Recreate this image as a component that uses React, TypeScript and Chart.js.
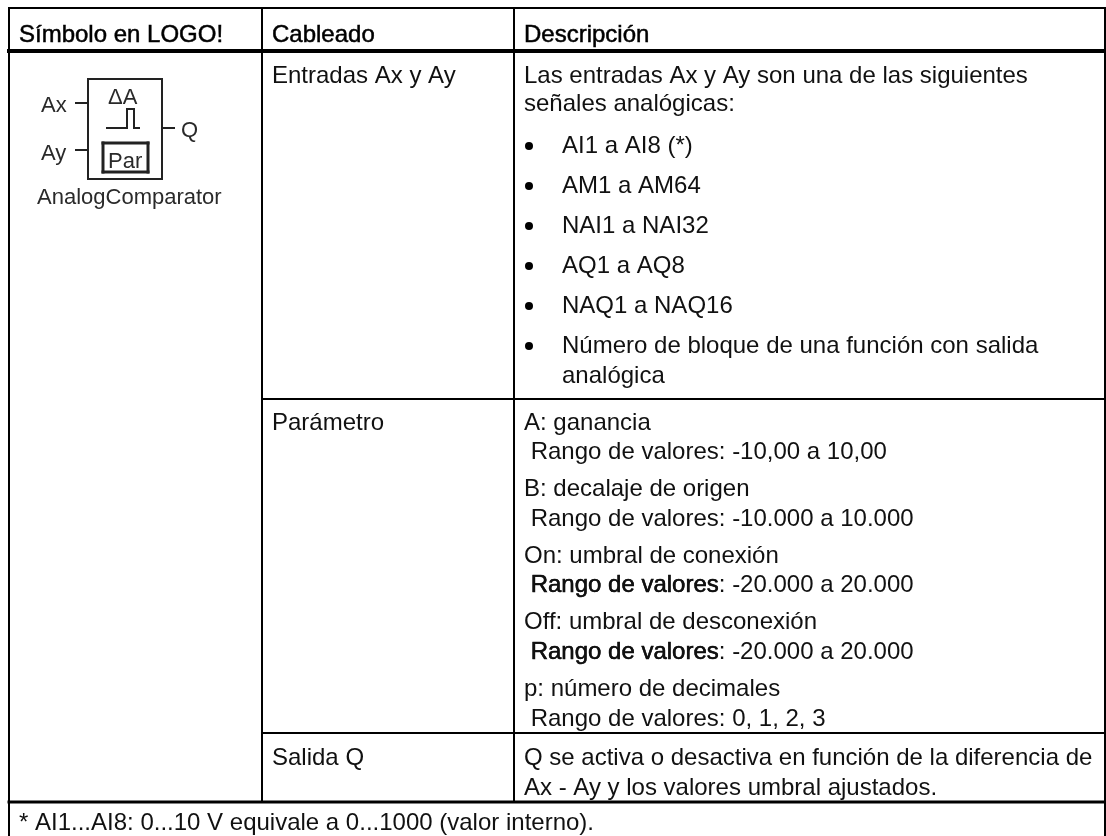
import React, { useEffect, useRef } from "react";
import { Chart, registerables } from "chart.js";

Chart.register(...registerables);

// ---------- content ----------
const headers = ["Símbolo en LOGO!", "Cableado", "Descripción"];
const wiring = ["Entradas Ax y Ay", "Parámetro", "Salida Q"];
const description = [
  "Las entradas Ax y Ay son una de las siguientes",
  "señales analógicas:",
  "A: ganancia",
  " Rango de valores: -10,00 a 10,00",
  "B: decalaje de origen",
  " Rango de valores: -10.000 a 10.000",
  "On: umbral de conexión",
  " Rango de valores: -20.000 a 20.000",
  "Off: umbral de desconexión",
  " Rango de valores: -20.000 a 20.000",
  "p: número de decimales",
  " Rango de valores: 0, 1, 2, 3",
  "Q se activa o desactiva en función de la diferencia de",
  "Ax - Ay y los valores umbral ajustados.",
];
const bullets = ["AI1 a AI8 (*)", "AM1 a AM64", "NAI1 a NAI32", "AQ1 a AQ8", "NAQ1 a NAQ16", "Número de bloque de una función con salida"];
const bulletContinuation = "analógica";
const emphasised = " Rango de valores";
const footnote = "* AI1...AI8: 0...10 V equivale a 0...1000 (valor interno).";
const symbolTexts = ["Ax", "Ay", "Q", "ΔA", "Par", "AnalogComparator"];

// ---------- layout (page grid) ----------
const W = 1106;
const H = 836;
const colX = [9, 262, 514, 1105];
const rowY = [8, 51, 399, 733, 802, 836];
const textX = [19, 272, 524];
const descY = [76, 104.5, 423, 452, 489, 519, 556, 585, 622, 652, 689, 719, 758, 788];
const bulletY = [146, 186, 226, 266, 306, 346];
const bulletContinuationY = 376;
const wiringY = [76, 423, 758];
const emphasisedRows = [7, 9];

type Seg = [number, number, number, number, number?];
const rules: Seg[] = [
  [colX[0], rowY[0], colX[3], rowY[0], 2],
  [colX[0], rowY[1], colX[3], rowY[1], 4],
  [colX[0], rowY[4], colX[3], rowY[4], 3],
  [colX[0], rowY[0], colX[0], rowY[5], 2],
  [colX[3], rowY[0], colX[3], rowY[5], 2],
  [colX[1], rowY[0], colX[1], rowY[4], 2],
  [colX[2], rowY[0], colX[2], rowY[4], 2],
  [colX[1], rowY[2], colX[3], rowY[2], 2],
  [colX[1], rowY[3], colX[3], rowY[3], 2],
];
const symbolLines: Seg[] = [
  [88, 79, 162, 79, 2], [162, 79, 162, 179, 2], [162, 179, 88, 179, 2], [88, 179, 88, 79, 2],
  [76, 103, 88, 103, 2], [76, 150, 88, 150, 2], [162, 128, 174, 128, 2],
  [107, 128, 127, 128, 2], [127, 128, 127, 109, 2], [127, 109, 134, 109, 2], [134, 109, 134, 128, 2], [134, 128, 139, 128, 2],
  [103, 143, 148, 143, 3], [148, 143, 148, 172, 3], [148, 172, 103, 172, 3], [103, 172, 103, 143, 3],
];

const segData = (s: Seg[], color: string) =>
  s.map((g) => ({
    type: "line" as const,
    data: [{ x: g[0], y: g[1] }, { x: g[2], y: g[3] }],
    borderColor: color,
    borderWidth: g[4] ?? 1,
    pointRadius: 0,
    borderCapStyle: "square" as const,
    parsing: false as const,
  }));

export default function App() {
  const ref = useRef<HTMLCanvasElement>(null);
  useEffect(() => {
    const textPlugin = {
      id: "tableText",
      afterDatasetsDraw(chart: any) {
        const { ctx } = chart;
        const sx = chart.scales.x;
        const sy = chart.scales.y;
        const put = (t: string, x: number, y: number, size = 24, bold = false, color = "#111") => {
          ctx.font = `${size}px "Liberation Sans"`;
          ctx.fillStyle = color;
          ctx.textAlign = "left";
          ctx.textBaseline = "middle";
          const px = sx.getPixelForValue(x);
          const py = sy.getPixelForValue(y);
          ctx.fillText(t, px, py);
          if (bold) {
            ctx.lineWidth = 0.5;
            ctx.strokeStyle = color;
            ctx.strokeText(t, px, py);
          }
        };
        ctx.save();
        headers.forEach((h, i) => put(h, textX[i], 35, 24, true, "#000"));
        wiring.forEach((w, i) => put(w, textX[1], wiringY[i]));
        description.forEach((d, i) => {
          put(d, textX[2], descY[i]);
          if (emphasisedRows.includes(i)) put(emphasised, textX[2], descY[i], 24, true);
        });
        bullets.forEach((b, i) => {
          put(b, 562, bulletY[i]);
          ctx.fillStyle = "#000";
          ctx.beginPath();
          ctx.arc(sx.getPixelForValue(529), sy.getPixelForValue(bulletY[i]), 4, 0, Math.PI * 2);
          ctx.fill();
        });
        put(bulletContinuation, 562, bulletContinuationY);
        put(footnote, textX[0], 823);
        const sym = "#2a2a2a";
        put(symbolTexts[0], 41, 106, 22, false, sym);
        put(symbolTexts[1], 41, 154, 22, false, sym);
        put(symbolTexts[2], 181, 131, 22, false, sym);
        put(symbolTexts[3], 108, 98, 22, false, sym);
        put(symbolTexts[4], 108, 162, 22, false, sym);
        put(symbolTexts[5], 37, 198, 22, false, sym);
        ctx.restore();
      },
    };
    const chart = new Chart(ref.current!, {
      type: "scatter",
      data: { datasets: [...segData(rules, "#000"), ...segData(symbolLines, "#222")] as any },
      options: {
        animation: false,
        responsive: false,
        layout: { padding: 0 },
        plugins: { legend: { display: false }, tooltip: { enabled: false } },
        scales: {
          x: { type: "linear", min: 0, max: W, display: false },
          y: { type: "linear", min: 0, max: H, reverse: true, display: false },
        },
      },
      plugins: [textPlugin],
    });
    return () => chart.destroy();
  }, []);
  return (
    <canvas
      ref={ref}
      width={W}
      height={H}
      style={{ position: "absolute", left: 0, top: 0, width: W, height: H, background: "#fff" }}
    />
  );
}
